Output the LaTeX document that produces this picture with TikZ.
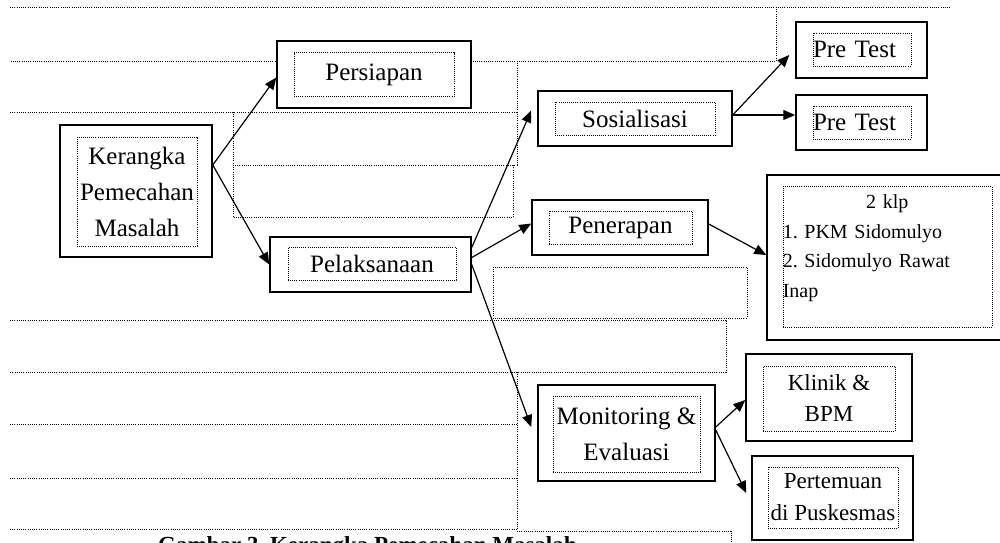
\documentclass[tikz,border=0pt]{standalone}
\usepackage{fontspec}
\setmainfont{Liberation Serif}
\usetikzlibrary{arrows.meta,positioning}
\frenchspacing

\begin{document}
\begin{tikzpicture}[
  x=1pt, y=-1pt,
  outbox/.style={draw, line width=1.5pt, fill=white, inner sep=0pt},
  inbox/.style={draw, line width=0.9pt, dash pattern=on 0.9pt off 1.2pt,
    inner sep=0pt, align=center, font=\fontsize{25}{36}\selectfont},
  guide/.style={line width=1pt, dash pattern=on 1pt off 1.2pt, black},
  arr/.style={-{Triangle[length=12pt,width=10pt]}, line width=1.2pt},
]
  \useasboundingbox (0,0) rectangle (1000,542);
  \clip (0,0) rectangle (1000,542);

  % Dotted guide lines behind the chart
  \draw[guide] (10,7) -- (950,7);
  \draw[guide] (776,7) -- (776,61) -- (10,61);
  \draw[guide] (10,112) -- (517,112);
  \draw[guide] (517,61) -- (517,165) -- (233,165) -- (233,112);
  \draw[guide] (233,165) -- (233,217) -- (513,217) -- (513,165);
  \draw[guide] (493,267) rectangle (747,318);
  \draw[guide] (10,320) -- (726,320) -- (726,372) -- (10,372);
  \draw[guide] (517,372) -- (517,529);
  \foreach \y in {424,478,529}
    \draw[guide] (10,\y) -- (517,\y);
  \draw[guide] (517,531) -- (731,531) -- (731,545);

  % Root
  \node[outbox, minimum width=152pt, minimum height=132pt] (kerangka) at (136,191) {};
  \node[inbox, minimum width=120pt, minimum height=109pt] (kerangka-in) at (137,191.5)
    {Kerangka\\Pemecahan\\Masalah};

  % Stage boxes
  \node[outbox, minimum width=194pt, minimum height=67pt] (persiapan) at (374,74.5) {};
  \node[inbox, minimum width=160pt, minimum height=44pt] (persiapan-in) at (persiapan) {Persiapan};
  \node[outbox, minimum width=201pt, minimum height=55pt] (pelaksanaan) at (370.5,264.5) {};
  \node[inbox, minimum width=168pt, minimum height=33pt] (pelaksanaan-in) at (372,263.5) {Pelaksanaan};

  % Activities
  \node[outbox, minimum width=194pt, minimum height=55pt] (sosialisasi) at (635,118.5) {};
  \node[inbox, minimum width=160pt, minimum height=33pt] (sosialisasi-in) at (sosialisasi) {Sosialisasi};
  \node[outbox, minimum width=176pt, minimum height=55pt] (penerapan) at (620,227.5) {};
  \node[inbox, minimum width=143pt, minimum height=33pt] (penerapan-in) at (620.5,227.5) {Penerapan};
  \node[outbox, minimum width=177pt, minimum height=96pt] (monev) at (626.5,433) {};
  \node[inbox, minimum width=147pt, minimum height=76pt] (monev-in) at (626.5,434)
    {Monitoring \&\\Evaluasi};

  % Outcomes
  \node[outbox, minimum width=131pt, minimum height=56pt] (pretestA) at (861.5,50) {};
  \node[inbox, text width=98pt, align=left, minimum height=33pt] (pretestA-in) at (862,49.5) {Pre Test};
  \node[outbox, minimum width=131pt, minimum height=55pt] (pretestB) at (861.5,122.5) {};
  \node[inbox, text width=98pt, align=left, minimum height=33pt] (pretestB-in) at (862,122.5) {Pre Test};

  \node[outbox, minimum width=241pt, minimum height=165pt] (klp) at (887.5,257.5) {};
  \node[inbox, minimum width=209pt, minimum height=141pt] (klp-in) at (887.5,256.5) {};
  \node[anchor=north west, inner sep=0pt, text width=209pt, align=left,
    font=\fontsize{20}{29.5}\selectfont] (klp-txt) at ([yshift=-9pt]klp-in.north west)
    {\makebox[209pt]{2 klp}\\1. PKM Sidomulyo\\2. Sidomulyo Rawat\\Inap};

  \node[outbox, minimum width=166pt, minimum height=87pt] (klinik) at (829,397.5) {};
  \node[inbox, minimum width=132pt, minimum height=65pt, font=\fontsize{23}{31}\selectfont]
    (klinik-in) at (829,398.5) {Klinik \&\\BPM};
  \node[outbox, minimum width=161pt, minimum height=84pt] (pertemuan) at (832.5,498) {};
  \node[inbox, minimum width=130pt, minimum height=61pt, font=\fontsize{23}{32}\selectfont]
    (pertemuan-in) at (833,497.5) {Pertemuan\\di Puskesmas};

  % Arrows
  \draw[arr] ([yshift=26pt]kerangka.east) -- ([yshift=-3pt]persiapan.west);
  \draw[arr] ([yshift=26pt]kerangka.east) -- (pelaksanaan.west);
  \draw[arr] ([yshift=17pt]pelaksanaan.east) -- ([xshift=-6pt,yshift=8pt]sosialisasi.west);
  \draw[arr] ([yshift=7pt]pelaksanaan.east) -- ([yshift=4pt]penerapan.west);
  \draw[arr] (pelaksanaan.east) -- ([xshift=-6pt,yshift=6pt]monev.west);
  \draw[arr] ([yshift=3.5pt]sosialisasi.east) -- ([xshift=-6pt,yshift=-5pt]pretestA.west);
  \draw[arr] ([yshift=3.5pt]sosialisasi.east) -- ([yshift=7.5pt]pretestB.west);
  \draw[arr] ([yshift=3.5pt]penerapan.east) -- ([yshift=2.5pt]klp.west);
  \draw[arr] ([yshift=6pt]monev.east) -- ([yshift=-2.5pt]klinik.west);
  \draw[arr] ([yshift=3pt]monev.east) -- ([xshift=-5pt,yshift=5pt]pertemuan.west);

  % Caption, cut off at the lower edge
  \node[anchor=base west, inner sep=0pt, font=\fontsize{23}{28}\selectfont\bfseries]
    (caption) at (158,552) {Gambar 3. Kerangka Pemecahan Masalah};
\end{tikzpicture}
\end{document}
